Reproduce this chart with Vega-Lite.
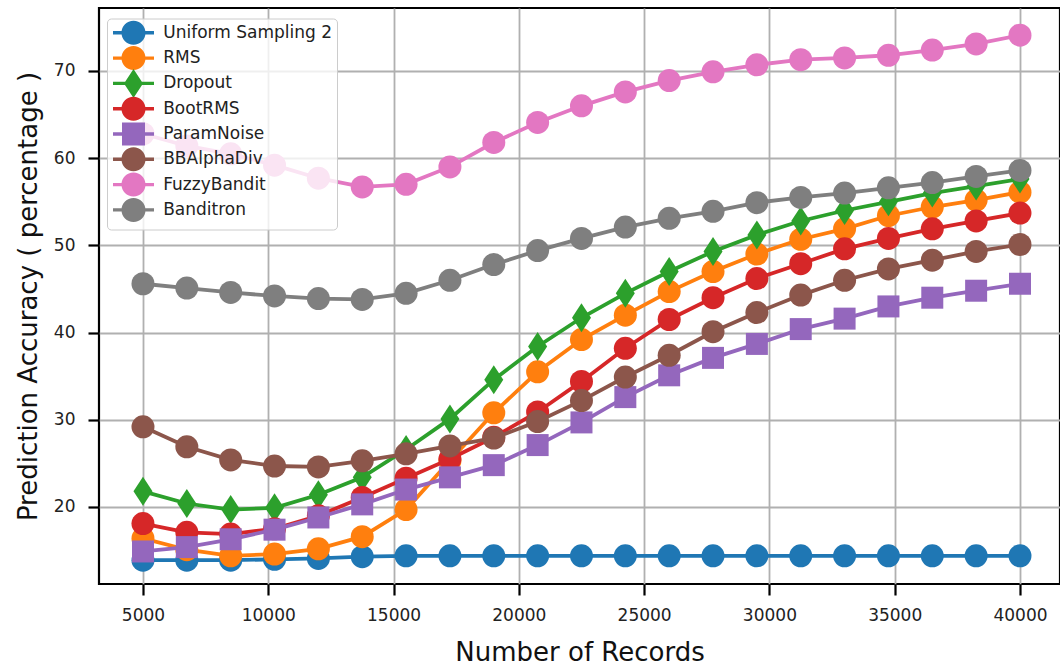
{
  "$schema": "https://vega.github.io/schema/vega-lite/v6.json",
  "width": 961,
  "height": 576,
  "autosize": {"type": "none"},
  "padding": {"left": 99, "top": 8, "right": 0, "bottom": 81},
  "background": "white",
  "config": {
    "font": "DejaVu Sans",
    "view": {"stroke": "black", "strokeWidth": 2.2},
    "axis": {
      "domain": false,
      "grid": true,
      "gridColor": "#b0b0b0",
      "gridWidth": 1.8,
      "tickColor": "black",
      "tickWidth": 2.2,
      "tickSize": 11,
      "labelFont": "DejaVu Sans",
      "labelFontSize": 17,
      "labelColor": "#222222",
      "titleFont": "DejaVu Sans",
      "titleFontSize": 26,
      "titleFontWeight": "normal",
      "titleColor": "#111111"
    }
  },
  "data": {
    "values": [
      {"records": 5000, "Uniform Sampling 2": 13.9, "RMS": 16.4, "Dropout": 21.8, "BootRMS": 18.1, "ParamNoise": 14.9, "BBAlphaDiv": 29.2, "FuzzyBandit": 62.8, "Banditron": 45.6},
      {"records": 6750, "Uniform Sampling 2": 13.9, "RMS": 15.1, "Dropout": 20.4, "BootRMS": 17.1, "ParamNoise": 15.4, "BBAlphaDiv": 26.9, "FuzzyBandit": 61.4, "Banditron": 45.1},
      {"records": 8500, "Uniform Sampling 2": 13.9, "RMS": 14.4, "Dropout": 19.7, "BootRMS": 16.9, "ParamNoise": 16.3, "BBAlphaDiv": 25.4, "FuzzyBandit": 60.5, "Banditron": 44.6},
      {"records": 10250, "Uniform Sampling 2": 14.0, "RMS": 14.6, "Dropout": 19.9, "BootRMS": 17.5, "ParamNoise": 17.4, "BBAlphaDiv": 24.7, "FuzzyBandit": 59.2, "Banditron": 44.2},
      {"records": 12000, "Uniform Sampling 2": 14.1, "RMS": 15.2, "Dropout": 21.4, "BootRMS": 19.0, "ParamNoise": 18.8, "BBAlphaDiv": 24.6, "FuzzyBandit": 57.7, "Banditron": 43.9},
      {"records": 13750, "Uniform Sampling 2": 14.3, "RMS": 16.6, "Dropout": 23.4, "BootRMS": 21.1, "ParamNoise": 20.3, "BBAlphaDiv": 25.3, "FuzzyBandit": 56.7, "Banditron": 43.8},
      {"records": 15500, "Uniform Sampling 2": 14.4, "RMS": 19.7, "Dropout": 26.6, "BootRMS": 23.3, "ParamNoise": 22.0, "BBAlphaDiv": 26.1, "FuzzyBandit": 57.0, "Banditron": 44.5},
      {"records": 17250, "Uniform Sampling 2": 14.4, "RMS": 25.3, "Dropout": 30.1, "BootRMS": 25.5, "ParamNoise": 23.4, "BBAlphaDiv": 27.0, "FuzzyBandit": 59.0, "Banditron": 46.0},
      {"records": 19000, "Uniform Sampling 2": 14.4, "RMS": 30.8, "Dropout": 34.6, "BootRMS": 28.0, "ParamNoise": 24.8, "BBAlphaDiv": 27.9, "FuzzyBandit": 61.8, "Banditron": 47.8},
      {"records": 20750, "Uniform Sampling 2": 14.4, "RMS": 35.5, "Dropout": 38.4, "BootRMS": 30.9, "ParamNoise": 27.1, "BBAlphaDiv": 29.8, "FuzzyBandit": 64.1, "Banditron": 49.4},
      {"records": 22500, "Uniform Sampling 2": 14.4, "RMS": 39.2, "Dropout": 41.7, "BootRMS": 34.4, "ParamNoise": 29.7, "BBAlphaDiv": 32.2, "FuzzyBandit": 66.0, "Banditron": 50.8},
      {"records": 24250, "Uniform Sampling 2": 14.4, "RMS": 42.0, "Dropout": 44.5, "BootRMS": 38.2, "ParamNoise": 32.6, "BBAlphaDiv": 34.9, "FuzzyBandit": 67.6, "Banditron": 52.1},
      {"records": 26000, "Uniform Sampling 2": 14.4, "RMS": 44.7, "Dropout": 47.0, "BootRMS": 41.5, "ParamNoise": 35.1, "BBAlphaDiv": 37.4, "FuzzyBandit": 68.9, "Banditron": 53.1},
      {"records": 27750, "Uniform Sampling 2": 14.4, "RMS": 47.0, "Dropout": 49.3, "BootRMS": 44.0, "ParamNoise": 37.1, "BBAlphaDiv": 40.1, "FuzzyBandit": 69.9, "Banditron": 53.9},
      {"records": 29500, "Uniform Sampling 2": 14.4, "RMS": 49.0, "Dropout": 51.2, "BootRMS": 46.2, "ParamNoise": 38.7, "BBAlphaDiv": 42.3, "FuzzyBandit": 70.7, "Banditron": 54.9},
      {"records": 31250, "Uniform Sampling 2": 14.4, "RMS": 50.7, "Dropout": 52.8, "BootRMS": 47.9, "ParamNoise": 40.4, "BBAlphaDiv": 44.3, "FuzzyBandit": 71.3, "Banditron": 55.5},
      {"records": 33000, "Uniform Sampling 2": 14.4, "RMS": 51.9, "Dropout": 54.0, "BootRMS": 49.6, "ParamNoise": 41.6, "BBAlphaDiv": 46.0, "FuzzyBandit": 71.5, "Banditron": 56.0},
      {"records": 34750, "Uniform Sampling 2": 14.4, "RMS": 53.4, "Dropout": 55.0, "BootRMS": 50.8, "ParamNoise": 43.0, "BBAlphaDiv": 47.3, "FuzzyBandit": 71.8, "Banditron": 56.6},
      {"records": 36500, "Uniform Sampling 2": 14.4, "RMS": 54.4, "Dropout": 56.0, "BootRMS": 51.9, "ParamNoise": 44.0, "BBAlphaDiv": 48.3, "FuzzyBandit": 72.4, "Banditron": 57.2},
      {"records": 38250, "Uniform Sampling 2": 14.4, "RMS": 55.2, "Dropout": 56.8, "BootRMS": 52.8, "ParamNoise": 44.8, "BBAlphaDiv": 49.3, "FuzzyBandit": 73.1, "Banditron": 57.9},
      {"records": 40000, "Uniform Sampling 2": 14.4, "RMS": 56.1, "Dropout": 57.6, "BootRMS": 53.7, "ParamNoise": 45.6, "BBAlphaDiv": 50.1, "FuzzyBandit": 74.1, "Banditron": 58.6}
    ]
  },
  "transform": [
    {"fold": ["Uniform Sampling 2", "RMS", "Dropout", "BootRMS", "ParamNoise", "BBAlphaDiv", "FuzzyBandit", "Banditron"], "as": ["series", "accuracy"]}
  ],
  "encoding": {
    "x": {
      "field": "records",
      "type": "quantitative",
      "scale": {"domain": [3245, 41597], "nice": false, "zero": false},
      "axis": {"values": [5000, 10000, 15000, 20000, 25000, 30000, 35000, 40000], "format": "d", "labelPadding": 12, "title": "Number of Records", "titlePadding": 16}
    },
    "y": {
      "field": "accuracy",
      "type": "quantitative",
      "scale": {"domain": [11.17, 77.22], "nice": false, "zero": false},
      "axis": {"values": [20, 30, 40, 50, 60, 70], "labelPadding": 13, "title": "Prediction Accuracy ( percentage )", "titlePadding": 12}
    },
    "color": {
      "field": "series",
      "type": "nominal",
      "scale": {
        "domain": ["Uniform Sampling 2", "RMS", "Dropout", "BootRMS", "ParamNoise", "BBAlphaDiv", "FuzzyBandit", "Banditron"],
        "range": ["#1f77b4", "#ff7f0e", "#2ca02c", "#d62728", "#9467bd", "#8c564b", "#e377c2", "#7f7f7f"]
      },
      "legend": {
        "title": null,
        "orient": "none",
        "legendX": 8,
        "legendY": 10.5,
        "padding": 4.3,
        "rowPadding": -4.7,
        "symbolSize": 400,
        "symbolOffset": 12.2,
        "labelOffset": 19.7,
        "labelFont": "DejaVu Sans",
        "labelFontSize": 17,
        "labelColor": "#222222",
        "labelLimit": 400,
        "fillColor": "rgba(255,255,255,0.8)",
        "strokeColor": "#cccccc",
        "cornerRadius": 4,
        "encode": {
          "symbols": {
            "update": {
              "shape": {"signal": "datum.value === 'Dropout' ? 'M-2.05,-0.17L2.05,-0.17L2.05,0.17L-2.05,0.17Z M0,-1.45L0.95,0L0,1.45L-0.95,0Z' : datum.value === 'ParamNoise' ? 'M-2.05,-0.17L2.05,-0.17L2.05,0.17L-2.05,0.17Z M-1.15,-1.15L1.15,-1.15L1.15,1.15L-1.15,1.15Z M0,-1.45 M0,1.45' : 'M-2.05,-0.17L2.05,-0.17L2.05,0.17L-2.05,0.17Z M1.2,0A1.2,1.2 0 1,1 -1.2,0A1.2,1.2 0 1,1 1.2,0Z M0,-1.45 M0,1.45'"},
              "size": {"value": 400},
              "fill": {"scale": "color", "field": "value"},
              "stroke": {"value": "transparent"},
              "strokeWidth": {"value": 0},
              "opacity": {"value": 1}
            }
          }
        }
      }
    }
  },
  "layer": [
    {"transform": [{"filter": "datum.series === 'Uniform Sampling 2'"}], "mark": {"type": "line", "strokeWidth": 3.8, "point": {"filled": true, "opacity": 1, "size": 529, "shape": "circle"}}},
    {"transform": [{"filter": "datum.series === 'RMS'"}], "mark": {"type": "line", "strokeWidth": 3.8, "point": {"filled": true, "opacity": 1, "size": 529, "shape": "circle"}}},
    {"transform": [{"filter": "datum.series === 'Dropout'"}], "mark": {"type": "line", "strokeWidth": 3.8, "point": {"filled": true, "opacity": 1, "size": 841, "shape": "M0,-1L0.655,0L0,1L-0.655,0Z"}}},
    {"transform": [{"filter": "datum.series === 'BootRMS'"}], "mark": {"type": "line", "strokeWidth": 3.8, "point": {"filled": true, "opacity": 1, "size": 529, "shape": "circle"}}},
    {"transform": [{"filter": "datum.series === 'ParamNoise'"}], "mark": {"type": "line", "strokeWidth": 3.8, "point": {"filled": true, "opacity": 1, "size": 484, "shape": "square"}}},
    {"transform": [{"filter": "datum.series === 'BBAlphaDiv'"}], "mark": {"type": "line", "strokeWidth": 3.8, "point": {"filled": true, "opacity": 1, "size": 529, "shape": "circle"}}},
    {"transform": [{"filter": "datum.series === 'FuzzyBandit'"}], "mark": {"type": "line", "strokeWidth": 3.8, "point": {"filled": true, "opacity": 1, "size": 529, "shape": "circle"}}},
    {"transform": [{"filter": "datum.series === 'Banditron'"}], "mark": {"type": "line", "strokeWidth": 3.8, "point": {"filled": true, "opacity": 1, "size": 529, "shape": "circle"}}}
  ]
}
